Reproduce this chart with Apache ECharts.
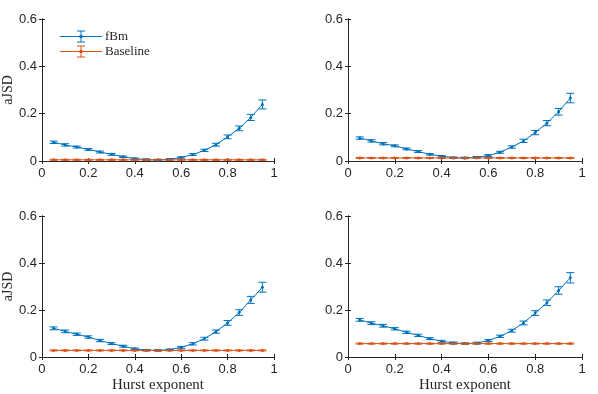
<!DOCTYPE html>
<html><head><meta charset="utf-8">
<script src="https://cdn.jsdelivr.net/npm/echarts@6/dist/echarts.min.js"></script>
<style>html,body{margin:0;background:#fff}#c{width:598px;height:394px}</style>
</head><body><div id="c"></div>
<script>
const hurst = [0.05,0.1,0.15,0.2,0.25,0.3,0.35,0.4,0.45,0.5,0.55,0.6,0.65,0.7,0.75,0.8,0.85,0.9,0.95];

// panel A (top left)
const fbmA = [0.079,0.068,0.059,0.049,0.038,0.028,0.018,0.010,0.006,0.004,0.007,0.015,0.027,0.045,0.069,0.102,0.138,0.184,0.239];
const fbmErrA = [0.005,0.005,0.004,0.004,0.004,0.004,0.003,0.003,0.003,0.003,0.003,0.003,0.004,0.005,0.006,0.008,0.010,0.013,0.019];
const baseA = [0.005,0.005,0.005,0.005,0.005,0.005,0.005,0.005,0.005,0.005,0.005,0.005,0.005,0.005,0.005,0.005,0.005,0.005,0.005];
// panel B (top right)
const fbmB = [0.097,0.085,0.073,0.064,0.051,0.040,0.028,0.020,0.014,0.013,0.016,0.023,0.037,0.059,0.085,0.120,0.160,0.208,0.266];
const fbmErrB = [0.005,0.005,0.005,0.004,0.004,0.004,0.003,0.003,0.003,0.003,0.003,0.004,0.004,0.005,0.007,0.009,0.011,0.014,0.020];
const baseB = [0.013,0.013,0.013,0.013,0.013,0.013,0.013,0.013,0.013,0.013,0.013,0.013,0.013,0.013,0.013,0.013,0.013,0.013,0.013];
// panel C (bottom left)
const fbmC = [0.122,0.109,0.097,0.085,0.070,0.057,0.046,0.035,0.029,0.028,0.031,0.041,0.056,0.078,0.108,0.145,0.189,0.243,0.297];
const fbmErrC = [0.006,0.006,0.005,0.005,0.005,0.004,0.004,0.003,0.003,0.003,0.003,0.004,0.005,0.006,0.007,0.010,0.012,0.015,0.021];
const baseC = [0.028,0.028,0.028,0.028,0.028,0.028,0.028,0.028,0.028,0.028,0.028,0.028,0.028,0.028,0.028,0.028,0.028,0.028,0.028];
// panel D (bottom right)
const fbmD = [0.158,0.144,0.133,0.120,0.105,0.092,0.078,0.067,0.060,0.057,0.059,0.070,0.088,0.112,0.145,0.187,0.231,0.283,0.337];
const fbmErrD = [0.006,0.006,0.006,0.005,0.005,0.005,0.004,0.004,0.004,0.003,0.004,0.004,0.005,0.006,0.008,0.010,0.012,0.016,0.022];
const baseD = [0.057,0.057,0.057,0.057,0.057,0.057,0.057,0.057,0.057,0.057,0.057,0.057,0.057,0.057,0.057,0.057,0.057,0.057,0.057];
const baseErr = 0.002;

const panels = [
  {fbm: fbmA, err: fbmErrA, base: baseA, yName: 'aJSD', xName: ''},
  {fbm: fbmB, err: fbmErrB, base: baseB, yName: '', xName: ''},
  {fbm: fbmC, err: fbmErrC, base: baseC, yName: 'aJSD', xName: 'Hurst exponent'},
  {fbm: fbmD, err: fbmErrD, base: baseD, yName: '', xName: 'Hurst exponent'}
];

const blue = '#0072BD', orange = '#D95319', ink = '#262626';
const sans = 'Liberation Sans', serif = 'Liberation Serif';

const grids = [
  {left: 40, top: 19, width: 234, height: 142},
  {left: 348, top: 19, width: 234, height: 142},
  {left: 40, top: 216, width: 234, height: 143},
  {left: 348, top: 216, width: 234, height: 143}
];

function errItem(params, api) {
  const x = api.value(0), lo = api.value(1), hi = api.value(2);
  const a = api.coord([x, lo]), b = api.coord([x, hi]);
  const w = 4;
  const st = {stroke: api.visual('color'), lineWidth: 1};
  return {type: 'group', children: [
    {type: 'line', shape: {x1: a[0], y1: a[1], x2: b[0], y2: b[1]}, style: st},
    {type: 'line', shape: {x1: a[0] - w, y1: a[1], x2: a[0] + w, y2: a[1]}, style: st},
    {type: 'line', shape: {x1: b[0] - w, y1: b[1], x2: b[0] + w, y2: b[1]}, style: st}
  ]};
}

const xAxis = [], yAxis = [], series = [];
const lineAx = {show: true, lineStyle: {color: ink, width: 1}};
const tickIn = {show: true, inside: true, length: 3, lineStyle: {color: ink}};

panels.forEach((p, i) => {
  xAxis.push({
    type: 'value', gridIndex: i, min: 0, max: 1, interval: 0.2, position: 'bottom',
    axisLine: lineAx, axisTick: tickIn, splitLine: {show: false},
    axisLabel: {color: ink, fontFamily: sans, fontSize: 13, margin: 6},
    name: p.xName, nameLocation: 'middle', nameGap: 21,
    nameTextStyle: {color: ink, fontFamily: serif, fontSize: 15}
  });
  xAxis.push({
    type: 'value', gridIndex: i, min: 0, max: 1, interval: 0.2, position: 'top',
    axisLine: lineAx, axisTick: tickIn, axisLabel: {show: false}, splitLine: {show: false}
  });
  yAxis.push({
    type: 'value', gridIndex: i, min: 0, max: 0.6, interval: 0.2, position: 'left',
    axisLine: lineAx, axisTick: tickIn, splitLine: {show: false},
    axisLabel: {color: ink, fontFamily: sans, fontSize: 13, margin: 5},
    name: p.yName, nameLocation: 'middle', nameGap: 22, nameRotate: 90,
    nameTextStyle: {color: ink, fontFamily: serif, fontSize: 14}
  });
  yAxis.push({
    type: 'value', gridIndex: i, min: 0, max: 0.6, interval: 0.2, position: 'right',
    axisLine: lineAx, axisTick: tickIn, axisLabel: {show: false}, splitLine: {show: false}
  });
  const ax = {xAxisIndex: 2 * i, yAxisIndex: 2 * i};
  series.push(Object.assign({
    name: 'fBm', type: 'line', data: hurst.map((h, k) => [h, p.fbm[k]]),
    symbol: 'circle', symbolSize: 3, itemStyle: {color: blue},
    lineStyle: {color: blue, width: 1}
  }, ax));
  series.push(Object.assign({
    name: 'fBm', type: 'custom', renderItem: errItem, itemStyle: {color: blue},
    encode: {x: 0, y: [1, 2]},
    data: hurst.map((h, k) => [h, p.fbm[k] - p.err[k], p.fbm[k] + p.err[k]])
  }, ax));
  series.push(Object.assign({
    name: 'Baseline', type: 'line', data: hurst.map((h, k) => [h, p.base[k]]),
    symbol: 'circle', symbolSize: 3, itemStyle: {color: orange},
    lineStyle: {color: orange, width: 1}
  }, ax));
  series.push(Object.assign({
    name: 'Baseline', type: 'custom', renderItem: errItem, itemStyle: {color: orange},
    encode: {x: 0, y: [1, 2]},
    data: hurst.map((h, k) => [h, p.base[k] - baseErr, p.base[k] + baseErr])
  }, ax));
});

const legIcon = 'path://M0 6.5L42 6.5L42 7.5L0 7.5Z M20.5 1L21.5 1L21.5 13L20.5 13Z M17 1L25 1L25 2L17 2Z M17 12L25 12L25 13L17 13Z M19.5 5.5L22.5 5.5L22.5 8.5L19.5 8.5Z';

const chart = echarts.init(document.getElementById('c'), null, {renderer: 'canvas'});
chart.setOption({
  animation: false,
  backgroundColor: '#fff',
  grid: grids,
  xAxis: xAxis,
  yAxis: yAxis,
  legend: {
    data: [{name: 'fBm', icon: legIcon}, {name: 'Baseline', icon: legIcon}],
    left: 55, top: 25, orient: 'vertical', itemGap: 2,
    itemWidth: 42, itemHeight: 13,
    textStyle: {color: ink, fontFamily: serif, fontSize: 13, padding: [0, 0, 0, -2]}
  },
  series: series
});
</script>
</body></html>
